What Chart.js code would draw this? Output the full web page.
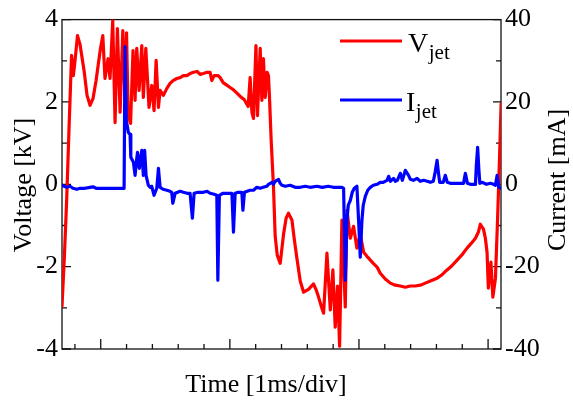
<!DOCTYPE html>
<html><head><meta charset="utf-8">
<script src="https://cdn.jsdelivr.net/npm/chart.js@4.4.0/dist/chart.umd.min.js"></script>
<style>html,body{margin:0;padding:0;background:#fff;}canvas{display:block;}</style>
</head><body>
<canvas id="c" width="573" height="403"></canvas>
<script>
// ---- data (time in ms, voltage in kV, current in mA) ----
const timeV = [0.000,0.019,0.036,0.054,0.074,0.088,0.101,0.120,0.140,0.171,
0.194,0.217,0.240,0.264,0.283,0.298,0.316,0.333,0.357,0.372,
0.393,0.411,0.429,0.450,0.471,0.488,0.500,0.512,0.531,0.550,
0.566,0.579,0.597,0.618,0.630,0.649,0.674,0.695,0.713,0.729,
0.747,0.760,0.785,0.812,0.837,0.860,0.889,0.915,0.940,0.967,
0.992,1.018,1.047,1.070,1.093,1.124,1.147,1.160,1.178,1.209,
1.225,1.248,1.271,1.302,1.326,1.357,1.388,1.411,1.442,1.457,
1.471,1.483,1.502,1.514,1.535,1.548,1.560,1.574,1.589,1.599,
1.607,1.620,1.638,1.651,1.667,1.690,1.716,1.736,1.754,1.781,
1.798,1.819,1.845,1.871,1.909,1.948,1.969,1.987,2.008,2.026,
2.052,2.078,2.098,2.116,2.134,2.150,2.168,2.194,2.207,2.233,
2.258,2.284,2.310,2.336,2.362,2.388,2.411,2.440,2.465,2.504,
2.543,2.581,2.620,2.659,2.698,2.736,2.775,2.814,2.853,2.905,
2.938,2.982,3.016,3.060,3.101,3.137,3.171,3.202,3.225,3.240,
3.264,3.279,3.292,3.302,3.322,3.337,3.357,3.374,3.388,3.401];
const voltage = [-2.96,-1.72,-0.39,1.31,3.13,2.64,3.01,3.61,3.39,2.76,
2.16,1.92,2.08,2.52,2.96,3.30,3.61,2.57,3.05,2.57,
3.98,1.50,3.78,1.75,3.73,2.08,3.68,1.67,1.48,3.25,
2.04,3.30,2.28,3.37,2.11,3.30,1.87,2.40,1.79,3.01,
1.87,2.28,2.16,2.33,2.45,2.52,2.57,2.59,2.64,2.64,
2.69,2.72,2.74,2.67,2.69,2.72,2.72,2.52,2.64,2.64,
2.59,2.47,2.42,2.35,2.30,2.21,2.11,2.06,1.89,2.59,
1.75,1.60,3.37,1.67,3.30,2.04,3.05,2.11,2.72,2.64,
2.11,1.07,-0.07,-1.26,-1.72,-1.92,-1.21,-0.82,-0.70,-0.87,
-1.31,-1.79,-2.35,-2.62,-2.55,-2.42,-2.57,-2.74,-2.96,-3.13,
-1.67,-3.05,-2.08,-3.47,-2.47,-3.93,-0.87,-2.98,-0.63,-1.31,
-1.02,-1.55,-1.21,-1.65,-1.75,-1.84,-1.92,-2.01,-2.16,-2.30,
-2.40,-2.45,-2.47,-2.50,-2.47,-2.47,-2.45,-2.40,-2.35,-2.28,
-2.21,-2.08,-1.99,-1.84,-1.70,-1.55,-1.43,-1.31,-1.16,-0.97,
-1.09,-1.31,-1.65,-2.52,-1.89,-2.74,-2.28,-0.80,0.58,1.96];
const timeI = [0.000,0.016,0.036,0.062,0.085,0.114,0.140,0.178,0.217,0.240,
0.264,0.295,0.333,0.372,0.411,0.450,0.481,0.488,0.498,0.514,
0.527,0.533,0.553,0.566,0.579,0.585,0.599,0.618,0.630,0.640,
0.651,0.669,0.682,0.695,0.713,0.734,0.747,0.760,0.783,0.812,
0.837,0.850,0.858,0.876,0.915,0.940,0.969,0.992,1.010,1.023,
1.054,1.095,1.124,1.147,1.178,1.199,1.207,1.219,1.248,1.277,
1.316,1.328,1.341,1.364,1.393,1.401,1.413,1.434,1.457,1.483,
1.509,1.535,1.558,1.587,1.599,1.626,1.638,1.651,1.677,1.690,
1.703,1.729,1.767,1.806,1.845,1.884,1.922,1.974,2.016,2.062,
2.101,2.129,2.168,2.181,2.194,2.207,2.217,2.233,2.248,2.264,
2.284,2.297,2.310,2.323,2.333,2.349,2.368,2.388,2.411,2.440,
2.465,2.488,2.517,2.530,2.543,2.568,2.581,2.597,2.620,2.636,
2.659,2.684,2.698,2.721,2.750,2.775,2.801,2.829,2.853,2.876,
2.891,2.905,2.915,2.925,2.953,2.969,2.984,3.008,3.060,3.085,
3.110,3.124,3.140,3.163,3.202,3.209,3.219,3.229,3.236,3.256,
3.287,3.318,3.343,3.357,3.370,3.382,3.401];
const current = [-0.24,-0.48,-0.73,-0.48,-0.97,-1.21,-0.97,-0.97,-0.73,-0.61,
-0.97,-0.97,-0.97,-0.97,-0.97,-0.97,-0.97,33.45,15.52,12.61,
12.12,6.55,5.33,2.18,6.30,7.76,3.88,8.24,2.18,8.24,
2.18,-0.24,-0.73,-0.48,-2.67,-0.97,3.88,-0.73,-1.21,-1.45,
-1.70,-1.94,-4.61,-2.18,-1.70,-1.94,-2.18,-2.18,-8.24,-2.18,
-1.94,-1.94,-1.70,-2.18,-2.42,-2.67,-23.27,-2.67,-2.18,-2.18,
-2.18,-11.64,-2.18,-1.94,-1.94,-6.30,-1.94,-1.70,-1.45,-1.45,
-0.73,-0.97,-0.73,-0.48,0.00,0.48,0.00,0.73,1.21,0.24,
-0.24,-0.48,-0.24,-0.73,-0.73,-0.48,-0.73,-0.48,-0.73,-0.48,
-0.73,-0.73,-0.73,-0.97,-23.27,-8.73,-5.09,-3.88,-1.94,-0.97,
-0.48,-8.73,-17.70,-8.73,-5.09,-2.91,-1.45,-0.73,-0.24,0.00,
0.48,0.48,0.97,1.94,0.73,1.45,0.73,0.97,2.67,0.97,
3.39,2.18,1.21,0.97,1.45,0.73,0.97,0.73,0.48,0.73,
3.15,5.82,2.91,0.48,0.48,2.18,0.48,0.24,0.24,0.24,
0.24,2.67,0.24,0.00,0.00,4.61,8.97,3.39,0.24,0.48,
0.00,0.24,0.00,-0.24,2.18,-0.73,-0.97];
const voltTicks = [-4,-2,0,2,4];
const currTicks = [-40,-20,0,20,40];
const timeMinorTicks = [0.1,0.3,0.5,0.7,0.9,1.1,1.3,1.5,1.7,1.9,2.1,2.3,2.5,2.7,2.9,3.1,3.3];
const timeMajorTicks = [0.3,1.3,2.3,3.3];
const seriesNames = ['V','I'];
const seriesSub = 'jet';
const xTitle = 'Time [1ms/div]';
const yTitle = 'Voltage [kV]';
const y2Title = 'Current [mA]';

const FONT = '"Liberation Serif","Times New Roman",serif';

const toXY = (xs, ys) => xs.map((x, i) => ({x: x, y: ys[i]}));

const framePlugin = {
  id: 'frame',
  beforeDatasetsDraw(chart) {
    const {ctx, chartArea: a, scales} = chart;
    ctx.save();
    ctx.strokeStyle = '#111';
    ctx.lineWidth = 1.3;
    ctx.strokeRect(a.left, a.top, a.right - a.left, a.bottom - a.top);
    ctx.beginPath();
    for (let v = -4; v <= 4; v += 1) {
      const y = scales.y.getPixelForValue(v);
      const len = (v % 2 === 0) ? 9 : 5;
      ctx.moveTo(a.left, y); ctx.lineTo(a.left + len, y);
    }
    for (let v = -40; v <= 40; v += 10) {
      const y = scales.y2.getPixelForValue(v);
      const len = (v % 20 === 0) ? 8 : 5;
      ctx.moveTo(a.right, y); ctx.lineTo(a.right - len, y);
    }
    timeMinorTicks.forEach(t => {
      const x = scales.x.getPixelForValue(t);
      const len = timeMajorTicks.includes(t) ? 10 : 5;
      ctx.moveTo(x, a.bottom); ctx.lineTo(x, a.bottom - len);
    });
    ctx.stroke();
    ctx.restore();
  },
  afterDraw(chart) {
    const {ctx} = chart;
    ctx.save();
    ctx.fillStyle = '#000';
    ctx.font = '26px ' + FONT;
    ctx.textAlign = 'center';
    ctx.textBaseline = 'middle';
    ctx.fillText(xTitle, 266, 385);
    ctx.save();
    ctx.translate(24, 185); ctx.rotate(-Math.PI / 2);
    ctx.fillText(yTitle, 0, 0);
    ctx.restore();
    ctx.save();
    ctx.translate(558, 180); ctx.rotate(-Math.PI / 2);
    ctx.fillText(y2Title, 0, 0);
    ctx.restore();
    // legend
    const items = [
      {name: seriesNames[0], color: '#ff0000', ly: 41, tx: 408, base: 52},
      {name: seriesNames[1], color: '#0000ff', ly: 100, tx: 406, base: 111}
    ];
    items.forEach(it => {
      ctx.strokeStyle = it.color; ctx.lineWidth = 3.2;
      ctx.beginPath(); ctx.moveTo(340, it.ly); ctx.lineTo(402, it.ly); ctx.stroke();
      ctx.textAlign = 'left'; ctx.textBaseline = 'alphabetic';
      ctx.font = '28px ' + FONT;
      ctx.fillText(it.name, it.tx, it.base);
      const w = ctx.measureText(it.name).width;
      ctx.font = '21px ' + FONT;
      ctx.fillText(seriesSub, it.tx + w + 0.5, it.base + 7);
    });
    ctx.restore();
  }
};

new Chart(document.getElementById('c'), {
  type: 'line',
  data: {
    datasets: [
      {label: 'Ijet', data: toXY(timeI, current), yAxisID: 'y2', borderColor: '#0000ff',
       borderWidth: 3.2, pointRadius: 0, tension: 0, order: 0, borderJoinStyle: 'round', borderCapStyle: 'round'},
      {label: 'Vjet', data: toXY(timeV, voltage), yAxisID: 'y', borderColor: '#ff0000',
       borderWidth: 3.2, pointRadius: 0, tension: 0, order: 1, borderJoinStyle: 'round', borderCapStyle: 'round'}
    ]
  },
  options: {
    responsive: false,
    animation: false,
    devicePixelRatio: 1,
    layout: {padding: {top: 19, left: 0, right: 0, bottom: 0}},
    plugins: {legend: {display: false}, tooltip: {enabled: false}},
    scales: {
      x: {
        type: 'linear', min: 0, max: 3.4,
        grid: {display: false, drawTicks: false}, border: {display: false},
        ticks: {display: false},
        afterFit(s) { s.height = 54; }
      },
      y: {
        position: 'left', min: -4, max: 4,
        grid: {display: false, drawTicks: false}, border: {display: false},
        afterBuildTicks(s) { s.ticks = voltTicks.map(v => ({value: v})); },
        ticks: {padding: 4, color: '#000', font: {family: FONT, size: 26}},
        afterFit(s) { s.width = 62; }
      },
      y2: {
        position: 'right', min: -40, max: 40,
        grid: {display: false, drawTicks: false}, border: {display: false},
        afterBuildTicks(s) { s.ticks = currTicks.map(v => ({value: v})); },
        ticks: {padding: 4, color: '#000', font: {family: FONT, size: 26}},
        afterFit(s) { s.width = 72; }
      }
    }
  },
  plugins: [framePlugin]
});
</script>
</body></html>
